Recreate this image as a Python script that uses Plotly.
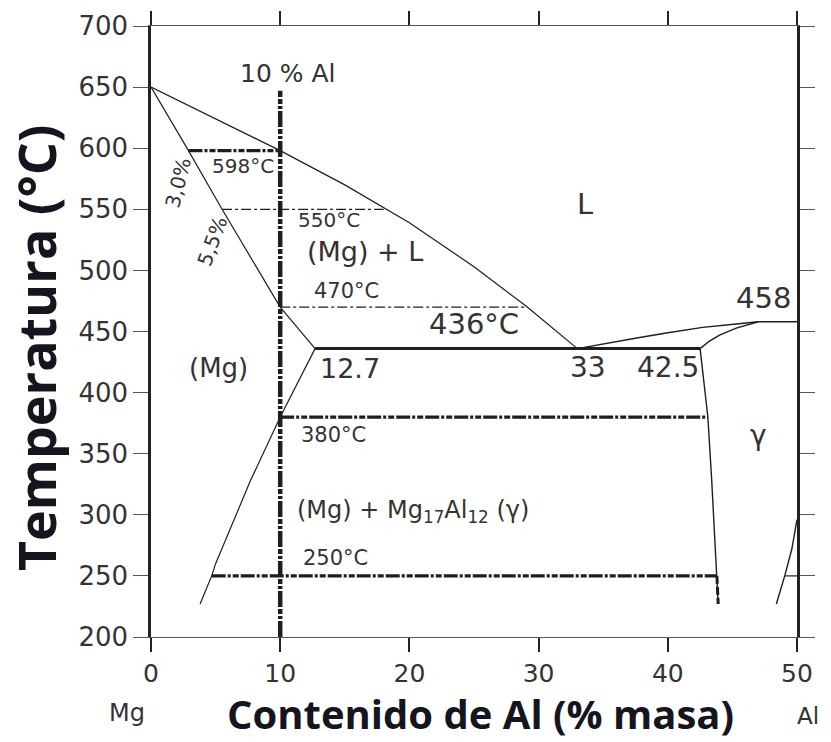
import plotly.graph_objects as go

# ---- Phase boundaries of the Mg-rich side of the Mg-Al system (wt.% Al, °C) ----
liq_mg_x = [0, 10, 15, 20, 25, 29, 33]
liq_mg_t = [650, 598, 570, 539, 503, 471, 436]

sol_mg_x = [0, 2.9, 5.5, 10, 12.7]
sol_mg_t = [650, 598, 550, 470, 436]

solvus_mg_x = [12.7, 11.0, 10.0, 7.7, 6.1, 5.0, 4.7, 3.8]
solvus_mg_t = [436, 400, 380, 328, 287, 260, 250, 227]

liq_g_x = [33, 35, 37.6, 40, 42.7, 45.3, 47, 50]
liq_g_t = [436, 440, 444.7, 449, 453.4, 456.1, 458, 458]

sol_g_x = [42.5, 43.2, 44.0, 45.3, 47]
sol_g_t = [436, 442, 447, 452.7, 458]

gam_left_x = [42.5, 42.9, 43.1, 43.4, 43.8, 43.9]
gam_left_t = [436, 400, 380, 328, 250, 227]

gam_right_x = [48.4, 49.05, 49.6, 50]
gam_right_t = [227, 250, 272, 296]
gam_right_tie_x = [49.05, 50]

# eutectic reaction
eut_t = 436
eut_comp = [12.7, 33, 42.5]     # (Mg), liquid, gamma

# alloy of interest
alloy_x = 10
alloy_t_range = [200, 647]

# isotherms crossing the alloy: temperature, left end, right end, heavy?
iso_t = [598, 550, 470, 380, 250]
iso_x0 = [2.9, 5.5, 10, 10, 4.7]
iso_x1 = [10, 18.0, 29.0, 43.1, 43.8]
iso_heavy = [True, False, False, True, True]

x_ticks = [0, 10, 20, 30, 40, 50]
y_ticks = list(range(200, 701, 50))

LINE = "#1e1e1e"
TXT = "#333333"
SANS = "DejaVu Sans, Liberation Sans, Arial, sans-serif"
TITLE = "Open Sans, Lato, sans-serif"

fig = go.Figure()


def curve(x, y, width=1.2, dash="solid", color=LINE):
    fig.add_trace(go.Scatter(x=x, y=y, mode="lines", hoverinfo="skip",
                             line=dict(color=color, width=width, dash=dash),
                             showlegend=False))


# isotherm tie lines
for t, a, b, heavy in zip(iso_t, iso_x0, iso_x1, iso_heavy):
    if heavy:
        curve([a, b], [t, t], width=3.2, dash="14px,2px,3px,2px,6px,2px")
    else:
        curve([a, b], [t, t], width=1.2, dash="10px,3px,3px,3px")

# liquidus / solidus / solvus lines
curve(liq_mg_x, liq_mg_t)
curve(sol_mg_x, sol_mg_t)
curve(solvus_mg_x, solvus_mg_t)
curve(liq_g_x, liq_g_t, width=1.4)
curve(sol_g_x, sol_g_t, width=1.4)
curve(gam_left_x, gam_left_t, width=1.4)
curve(gam_left_x[-2:], gam_left_t[-2:], width=3, dash="8px,3px")
curve(gam_right_x, gam_right_t, width=1.4)
curve(gam_right_tie_x, [gam_right_t[1], gam_right_t[1]], width=1.2)

# eutectic horizontal
curve([eut_comp[0], eut_comp[2]], [eut_t, eut_t], width=3)

# 10 % Al alloy vertical
curve([alloy_x, alloy_x], alloy_t_range, width=4.5, dash="16px,2px,3px,2px,5px,2px")


def label(x, y, text, size, angle=0, font=SANS, color=TXT):
    fig.add_annotation(x=x, y=y, xref="x", yref="y", text=text, showarrow=False,
                       textangle=angle, xanchor="center", yanchor="middle",
                       font=dict(family=font, size=size, color=color))


label(10.6, 661, f"{alloy_x} % Al", 25)
label(7.1, 585.5, f"{iso_t[0]}°C", 20)
label(2.1, 571.5, "3,0%", 20, angle=-76)
label(4.76, 524, "5,5%", 20, angle=-70)
label(13.8, 541.5, f"{iso_t[1]}°C", 20)
label(16.56, 515.5, "(Mg) + L", 27)
label(15.1, 483.2, f"{iso_t[2]}°C", 21)
label(33.6, 554.4, "L", 29)
label(25.0, 455.8, f"{eut_t}°C", 29)
label(47.4, 477.7, f"{liq_g_t[-1]}", 29)
label(5.21, 420, "(Mg)", 26)
label(15.4, 420, f"{eut_comp[0]}", 27)
label(33.8, 420.4, f"{eut_comp[1]}", 28)
label(39.98, 420.4, f"{eut_comp[2]}", 28)
label(14.1, 365.7, f"{iso_t[3]}°C", 21)
label(47.0, 365, "γ", 28)
label(20.3, 302.5, "(Mg) + Mg<sub>17</sub>Al<sub>12</sub> (γ)", 24)
label(14.3, 264.4, f"{iso_t[4]}°C", 21)

# axis titles and end-member names (paper coordinates)
fig.add_annotation(x=0.5108, y=-0.1245, xref="paper", yref="paper",
                   text="Contenido de Al (% masa)", showarrow=False,
                   xanchor="center", yanchor="middle",
                   font=dict(family=TITLE, size=40, color="#15151f", weight="bold"))
fig.add_annotation(x=-0.178, y=0.473, xref="paper", yref="paper",
                   text="Temperatura (°C)", showarrow=False, textangle=-90,
                   xanchor="center", yanchor="middle",
                   font=dict(family=TITLE, size=52, color="#15151f", weight="bold"))
fig.add_annotation(x=-0.037, y=-0.124, xref="paper", yref="paper", text="Mg",
                   showarrow=False, xanchor="center", yanchor="middle",
                   font=dict(family=SANS, size=24, color=TXT))
fig.add_annotation(x=1.017, y=-0.129, xref="paper", yref="paper", text="Al",
                   showarrow=False, xanchor="center", yanchor="middle",
                   font=dict(family=SANS, size=23, color=TXT))

fig.update_layout(
    width=831, height=742,
    margin=dict(l=151, r=34, t=26, b=105),
    paper_bgcolor="white", plot_bgcolor="white",
    showlegend=False,
    xaxis=dict(range=[0, 50], tickvals=x_ticks, ticks="outside", ticklen=14,
               tickwidth=2, tickcolor="#222", showline=True, linecolor="#555",
               linewidth=1.3, mirror="allticks", showgrid=False, zeroline=False,
               tickfont=dict(family=SANS, size=25, color=TXT)),
    yaxis=dict(range=[200, 700], tickvals=y_ticks, ticks="outside", ticklen=15,
               tickwidth=1.3, tickcolor="#555", showline=True, linecolor="#222",
               linewidth=2.5, mirror="allticks", showgrid=False, zeroline=False,
               tickfont=dict(family=SANS, size=26, color=TXT)),
)

fig.write_html("out.html")
